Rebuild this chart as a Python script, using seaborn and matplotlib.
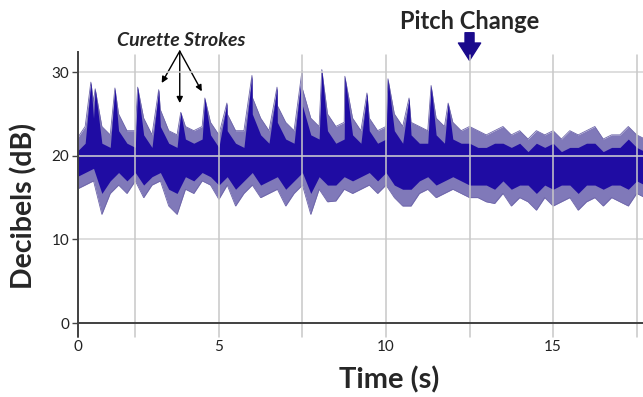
import numpy as np
import pandas as pd
import matplotlib
matplotlib.use('Agg')
import matplotlib.pyplot as plt
import seaborn as sns

# sample times (s) of the envelope readings
times = [0.75, 1.0, 1.25, 1.5, 1.75, 2.0, 2.25, 2.5, 2.75, 3.0, 3.25, 3.5, 3.75, 4.0,
         4.25, 4.5, 4.75, 5.0, 5.25, 5.5, 5.75, 6.0, 6.25, 6.5, 6.75, 7.0, 7.25, 7.5,
         7.75, 8.0, 8.25, 8.5, 8.75, 9.0, 9.25, 9.5, 9.75, 10.0, 10.25, 10.5, 10.75,
         11.0, 11.25, 11.5, 11.75, 12.0, 12.25, 12.5, 12.75, 13.0, 13.25, 13.5, 13.75,
         14.0, 14.25, 14.5, 14.75, 15.0, 15.25, 15.5, 15.75, 16.0, 16.25, 16.5, 16.75,
         17.0, 17.25, 17.5, 17.75]

# outer (light) envelope of the noisy trace, dB
outer_hi = [22.0, 23.5, 26.5, 23.5, 22.5, 25.0, 23.0, 23.0, 24.5, 22.5, 25.5, 23.0, 22.5, 23.5,
            23.0, 23.5, 24.0, 22.5, 25.0, 23.0, 23.0, 27.0, 24.5, 23.0, 26.0, 24.0, 23.0, 28.0,
            24.5, 23.5, 25.0, 23.5, 24.0, 24.5, 23.0, 24.5, 23.0, 23.5, 25.0, 23.5, 24.0,
            23.5, 23.0, 24.5, 23.5, 24.0, 23.0, 23.5, 23.0, 22.5, 23.0, 23.5, 22.5,
            23.0, 22.0, 23.0, 22.5, 23.0, 22.0, 23.0, 22.5, 23.0, 23.5, 22.0, 22.5,
            22.5, 23.5, 22.5, 22.0]
outer_lo = [16.0, 16.5, 17.0, 13.0, 15.5, 16.5, 15.5, 17.0, 15.0, 16.5, 17.0, 14.0, 13.0, 16.0,
            15.5, 17.0, 16.5, 14.8, 16.5, 14.0, 15.5, 16.5, 15.0, 15.5, 16.0, 14.0, 15.5, 16.5,
            13.0, 16.0, 14.5, 14.6, 16.0, 15.5, 16.0, 16.5, 15.5, 16.5, 15.0, 14.0, 14.0,
            15.5, 16.0, 15.0, 15.5, 16.0, 15.5, 15.0, 15.0, 14.5, 14.3, 15.5, 14.0,
            15.0, 14.5, 13.5, 15.0, 14.0, 14.5, 15.0, 13.5, 14.5, 15.0, 14.0, 15.0,
            14.5, 14.0, 15.5, 15.0]

# dense (dark) core of the trace, dB
core_hi = [20.5, 21.5, 24.5, 21.5, 21.0, 23.0, 21.5, 21.0, 22.5, 21.0, 23.5, 21.5, 21.0, 22.0,
           21.5, 22.0, 22.5, 21.0, 23.0, 21.5, 21.0, 25.0, 22.5, 21.5, 24.0, 22.0, 21.5, 26.0,
           22.5, 22.0, 23.0, 21.5, 22.0, 22.5, 21.5, 23.0, 21.5, 22.0, 23.0, 21.5, 22.5,
           21.5, 21.5, 22.5, 21.5, 22.0, 21.5, 21.5, 21.0, 21.0, 21.5, 21.5, 21.0,
           21.5, 20.5, 21.5, 21.0, 21.5, 20.5, 21.0, 21.0, 21.5, 21.5, 20.5, 21.0,
           21.0, 22.0, 21.0, 20.5]
core_lo = [17.5, 18.0, 18.5, 15.5, 17.0, 18.0, 17.0, 18.0, 16.5, 17.5, 18.0, 16.0, 15.5, 17.5,
           17.0, 18.0, 17.5, 16.5, 17.5, 16.0, 17.0, 18.0, 16.5, 17.0, 17.5, 16.0, 17.0, 18.0,
           15.5, 17.5, 16.5, 16.5, 17.5, 17.0, 17.5, 18.0, 17.0, 18.0, 16.5, 16.0, 16.0,
           17.0, 17.5, 16.5, 17.0, 17.5, 17.0, 16.5, 16.5, 16.5, 16.0, 17.0, 16.0,
           16.5, 16.5, 15.5, 16.5, 16.0, 16.5, 16.5, 15.5, 16.5, 16.5, 16.0, 16.5,
           16.5, 16.0, 17.0, 16.5]

# curette stroke peaks
spike_t = [1.17, 1.30, 1.89, 2.57, 3.20, 3.86, 4.58, 5.24, 5.99, 6.74, 7.49, 8.08,
           8.77, 9.43, 10.06, 10.69, 11.35, 11.86]
spike_db = [28.8, 28.0, 28.1, 28.2, 27.9, 25.2, 26.9, 26.3, 29.6, 28.2, 30.2, 30.3,
            29.5, 27.5, 29.2, 26.9, 28.4, 26.3]

x_tick_pos = [0.78, 5, 10, 15]
x_tick_labels = ['0', '5', '10', '15']
y_ticks = [0, 10, 20, 30]

# merge the peaks into the upper envelopes
env = pd.DataFrame({'t': times, 'hi': outer_hi, 'chi': core_hi})
pk = pd.DataFrame({'t': spike_t, 'hi': spike_db, 'chi': spike_db})
up = pd.concat([env, pk]).sort_values('t')

sns.set_style('white')
plt.rcParams['font.family'] = ['Lato', 'DejaVu Sans']

fig = plt.figure(figsize=(6.43, 3.97), dpi=100)
ax = fig.add_axes([0.121, 0.186, 0.879, 0.683])

lo_on_up = np.interp(up['t'], times, outer_lo)
clo_on_up = np.interp(up['t'], times, core_lo)
ax.fill_between(up['t'], lo_on_up, up['hi'], color='#8079b9', lw=0, zorder=1)
ax.fill_between(up['t'], clo_on_up, up['chi'], color='#1f0ca3', lw=0, zorder=2)
sns.lineplot(x=up['t'].values, y=up['hi'].values, ax=ax, color='#6e66aa', lw=0.6, zorder=1.5)
sns.lineplot(x=times, y=outer_lo, ax=ax, color='#6e66aa', lw=0.6, zorder=1.5)

ax.set_xlim(0.78, 17.69)
ax.set_ylim(0, 32.4)

# grid drawn over the trace
for yv in [10, 20, 30]:
    ax.axhline(yv, color='#d4d4d4', lw=1.1, zorder=5)
for xv in [2.5, 5, 7.5, 10, 12.5, 15, 17.5]:
    ax.plot([xv, xv], [-1.6, 32.0], color='#c8c8c8', lw=1.1, zorder=5, clip_on=False)

ax.set_xticks(x_tick_pos)
ax.set_xticklabels(x_tick_labels)
ax.set_yticks(y_ticks)
ax.tick_params(axis='x', length=0, pad=12, labelsize=11, colors='#222222')
ax.tick_params(axis='y', length=4, width=1, color='#444444', pad=2, labelsize=11,
               labelcolor='#222222', left=True)
for s in ['top', 'right']:
    ax.spines[s].set_visible(False)
for s in ['left', 'bottom']:
    ax.spines[s].set_color('#404040')
    ax.spines[s].set_linewidth(1.4)
    ax.spines[s].set_zorder(6)
ax.plot([0.78, 0.78], [-1.6, 0], color='#404040', lw=1.4, clip_on=False)

ax.set_xlabel('')
ax.set_ylabel('')
fig.text(0.037, 0.481, 'Decibels (dB)', rotation=90, ha='center', va='center',
         fontsize=20.5, fontweight='bold')
fig.text(0.605, 0.043, 'Time (s)', ha='center', va='center', fontsize=21, fontweight='bold')
fig.text(0.731, 0.928, 'Pitch Change', ha='center', va='baseline', fontsize=17, fontweight='bold')
fig.text(0.282, 0.884, 'Curette Strokes', ha='center', va='baseline', fontsize=14,
         fontweight='bold', fontstyle='italic')

ax.annotate('', xy=(12.5, 31.4), xytext=(12.5, 34.7), annotation_clip=False,
            arrowprops=dict(arrowstyle='simple,head_length=1.25,head_width=1.6,tail_width=0.65',
                            color='#1a0a8c', mutation_scale=10, shrinkA=0, shrinkB=0))
for tx, ty in [(3.29, 28.7), (3.83, 26.3), (4.49, 27.7)]:
    ax.annotate('', xy=(tx, ty), xytext=(3.83, 32.5), annotation_clip=False,
                arrowprops=dict(arrowstyle='-|>', color='black', lw=1.0,
                                mutation_scale=9, shrinkA=0, shrinkB=0))

fig.savefig('out.png', dpi=100)
